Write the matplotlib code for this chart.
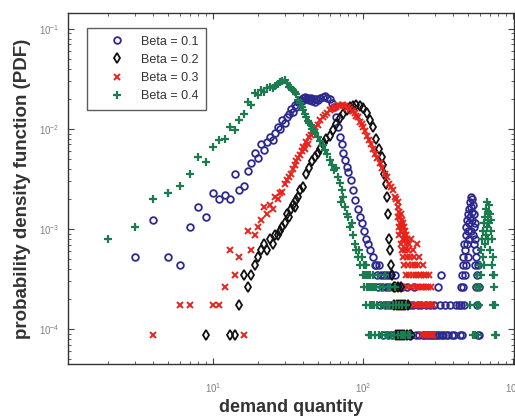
import numpy as np
from matplotlib import pyplot as plt
import matplotlib

# ---------------- data ----------------
# demand quantity (x) and number of occurrences (count) per series
# PDF = count / N_TOTAL  (one occurrence ~ 8.8e-5)
N_TOTAL = 11400

# Beta = 0.1
x_b1 = [3, 4, 5, 6, 7, 8, 9, 10, 11, 12, 13, 14, 15, 16, 17, 18, 19, 20, 21, 22,
        23, 24, 25, 26, 27, 28, 29, 30, 31, 32, 33, 34, 35, 36, 37, 38, 39, 40, 41, 42,
        43, 44, 45, 46, 47, 48, 49, 50, 52, 54, 56, 58, 60, 62, 64, 66, 68, 70, 72, 74,
        76, 78, 80, 83, 86, 89, 92, 95, 98, 101, 104, 108, 112, 116, 120,
        122, 124, 126, 128, 130, 132, 134, 136, 138, 140, 142, 144, 146, 148, 150, 152,
        154, 156, 158, 160, 163, 166, 169, 172, 175, 178, 181, 184, 188, 192, 196, 200,
        205, 210, 215, 220, 226, 232, 238, 244, 250, 256, 262, 268, 274, 280, 286, 292,
        298, 304, 310, 316, 322, 325, 330, 336, 342, 350, 360, 370, 380, 395, 405, 420,
        440, 444, 448, 452, 456, 459, 462, 465, 468, 471, 474, 477, 480, 483, 486, 489,
        492, 495, 498, 501, 504, 507, 510, 513, 516, 519, 522, 525, 528, 531, 534, 537,
        540, 543, 546, 549, 552, 555, 558, 561, 564, 567, 570, 574, 578, 582, 586, 590, 595]
c_b1 = [6, 14, 6, 5, 12, 19, 15, 26, 23, 25, 23, 40, 28, 31, 43, 52, 65, 58, 80, 70,
        85, 95, 88, 105, 120, 115, 140, 130, 150, 160, 180, 170, 200, 190, 210, 222, 215, 230, 240, 225,
        232, 222, 235, 215, 228, 210, 225, 222, 230, 238, 245, 232, 225, 205, 190, 150, 120, 95, 80, 66,
        56, 48, 42, 35, 28, 22, 18, 15, 13, 11, 9, 8, 7, 6, 5,
        5, 4, 3, 5, 2, 4, 3, 1, 4, 2, 3, 4, 1, 2, 3, 4,
        2, 1, 3, 2, 4, 1, 2, 3, 1, 2, 3, 2, 1, 2, 3, 1,
        2, 1, 2, 3, 1, 2, 1, 2, 1, 1, 2, 1, 1, 2, 1, 1,
        2, 1, 1, 3, 1, 2, 4, 1, 1, 2, 1, 1, 2, 1, 1, 2,
        2, 1, 3, 2, 4, 1, 5, 3, 6, 2, 8, 4, 7, 10, 5, 12,
        8, 14, 6, 11, 16, 9, 18, 13, 21, 15, 24, 11, 19, 17, 23, 14,
        20, 10, 16, 12, 8, 13, 5, 9, 7, 3, 6, 4, 2, 5, 1, 3, 1]

# Beta = 0.2
x_b2 = [9, 13, 14, 15, 16, 17, 18, 19, 20, 21, 22, 23, 24, 25, 26, 27, 28, 29, 30, 31,
        32, 33, 34, 35, 36, 37, 38, 40, 42, 44, 46, 48, 50, 52, 55, 57, 60, 63, 66, 70,
        74, 78, 82, 86, 90, 95, 100, 106, 112, 117, 123, 128, 133, 136, 139, 142, 145, 148,
        150, 152, 155, 157, 160, 162, 164, 166, 168, 170, 172, 174, 176, 178, 180, 183,
        186, 189, 192, 196, 200, 205, 210]
c_b2 = [1, 1, 1, 2, 4, 3, 4, 5, 6, 7, 8, 7, 9, 8, 10, 10, 11, 12, 13, 16,
        15, 18, 20, 19, 22, 24, 28, 30, 40, 46, 54, 60, 66, 72, 82, 90, 98, 112, 128, 148,
        162, 178, 188, 194, 198, 195, 185, 165, 140, 120, 90, 72, 60, 50, 40, 32, 24, 16,
        9, 7, 5, 4, 3, 2, 3, 1, 2, 3, 1, 2, 1, 2, 3, 1,
        2, 1, 2, 1, 2, 1, 1]

# Beta = 0.3
x_b3 = [4, 6, 7, 10, 11, 12, 13, 14, 15, 16, 17, 18, 19, 20, 21, 22, 23, 24, 25, 26,
        27, 28, 29, 30, 31, 32, 33, 34, 35, 36, 37, 38, 39, 40, 41, 42, 43, 44, 45, 46,
        47, 48, 50, 52, 54, 56, 58, 60, 62, 64, 66, 68, 70, 72, 74, 76, 78, 80, 82, 84,
        86, 88, 90, 92, 95, 98, 100, 103, 106, 110, 113, 116, 120, 125, 130, 135, 140, 144,
        150, 155, 158, 163, 166, 170, 171, 172, 173, 174, 175, 176, 177, 178, 179, 180, 181,
        182, 183, 184, 185, 186, 187, 188, 189, 190, 191, 192, 193, 194, 195, 196, 197, 198,
        199, 200, 202, 204, 206, 208, 210, 212, 214, 216, 218, 220, 222, 224, 226, 228, 230,
        232, 234, 236, 238, 240, 242, 244, 246, 248, 250, 252, 254, 256, 258, 260, 262, 264,
        266, 268, 270, 273, 276, 279, 282, 285, 288, 291, 295]
c_b3 = [1, 2, 2, 2, 2, 3, 7, 4, 6, 1, 11, 7, 10, 12, 14, 19, 16, 20, 18, 24,
        23, 26, 27, 32, 35, 38, 40, 45, 50, 55, 58, 63, 68, 75, 72, 84, 80, 95, 100, 110,
        104, 120, 125, 140, 150, 158, 165, 175, 180, 186, 190, 196, 195, 200, 196, 192, 186, 188, 180, 174,
        172, 164, 155, 150, 135, 128, 118, 110, 97, 88, 80, 72, 64, 58, 52, 46, 40, 38,
        32, 30, 28, 24, 23, 21, 15, 19, 12, 17, 10, 15, 13, 8, 16, 11, 14,
        7, 12, 9, 13, 6, 10, 12, 5, 9, 11, 7, 4, 10, 8, 6, 9, 3,
        7, 5, 8, 4, 6, 9, 3, 5, 7, 4, 2, 6, 5, 3, 4, 8, 2,
        5, 3, 4, 6, 2, 3, 4, 1, 3, 5, 2, 4, 3, 1, 2, 4, 3,
        2, 1, 3, 2, 4, 1, 2, 3, 1, 2, 1]

# Beta = 0.4
x_b4 = [2, 3, 4, 5, 6, 7, 8, 9, 10, 11, 12, 13, 14, 15, 16, 17, 18, 19, 20, 21,
        22, 23, 24, 25, 26, 27, 28, 29, 30, 31, 32, 33, 34, 35, 36, 37, 38, 39, 40, 41,
        42, 43, 44, 45, 46, 47, 48, 50, 52, 54, 56, 58, 60, 62, 64, 66, 68, 70, 71, 72,
        74, 76, 78, 80, 82, 84, 86, 88, 90, 92, 94, 96, 98, 100, 101, 102, 103, 104, 105,
        106, 107, 108, 109, 110, 111, 112, 113, 114, 115, 116, 117, 118, 119, 120, 122,
        124, 126, 128, 130, 132, 134, 136, 138, 140, 142, 144, 146, 148, 150, 152, 155,
        158, 161, 164, 167, 170, 174, 178, 182, 186, 190, 195, 200, 206,
        520, 540, 560, 566, 572, 578, 584, 590, 596, 602, 607, 612, 617, 622, 627, 632,
        637, 642, 647, 652, 657, 662, 667, 672, 677, 682, 687, 692, 697, 702, 707, 712,
        717, 722, 727, 732, 737, 742, 747, 752, 758, 764, 770]
c_b4 = [9, 12, 23, 26, 31, 40, 60, 53, 75, 88, 90, 119, 111, 140, 160, 210, 200, 260, 250, 280,
        270, 290, 300, 295, 310, 320, 335, 345, 355, 330, 300, 290, 280, 270, 255, 222, 205, 190, 177, 160,
        150, 138, 130, 125, 115, 110, 105, 95, 86, 78, 70, 64, 56, 50, 44, 46, 38, 33, 21, 28,
        24, 19, 16, 15, 12, 13, 10, 8, 7, 6, 7, 5, 6, 4, 5, 3, 4, 5,
        2, 4, 3, 4, 1, 3, 2, 4, 3, 1, 2, 3, 4, 2, 3, 1, 3,
        2, 4, 1, 3, 2, 1, 3, 2, 4, 1, 2, 3, 1, 2, 3, 1,
        2, 1, 3, 2, 1, 2, 1, 2, 1, 1, 2, 1, 1,
        2, 1, 1, 3, 2, 4, 1, 3, 2, 5, 3, 7, 4, 9, 6, 11,
        5, 13, 8, 15, 10, 18, 12, 21, 14, 17, 9, 20, 13, 16, 7, 11,
        14, 5, 9, 4, 6, 2, 4, 3, 1, 2, 1]

labels = ["Beta = 0.1", "Beta = 0.2", "Beta = 0.3", "Beta = 0.4"]

# ---------------- figure ----------------
matplotlib.rcParams['font.family'] = ['Liberation Sans', 'DejaVu Sans']
fig = plt.figure(figsize=(5.15, 4.17), dpi=100)
ax = fig.add_axes([0.132, 0.127, 0.866, 0.842])

ms = 4.8
mew = 1.3
ax.plot(x_b1, np.array(c_b1) / N_TOTAL, 'o', color='#2d2a8e', mfc='none', ms=ms, mew=mew, label=labels[0])
ax.plot(x_b2, np.array(c_b2) / N_TOTAL, 'd', color='#111111', mfc='none', ms=ms + 0.6, mew=mew, label=labels[1])
ax.plot(x_b3, np.array(c_b3) / N_TOTAL, 'x', color='#e8231c', ms=ms, mew=mew + 0.1, label=labels[2])
ax.plot(x_b4, np.array(c_b4) / N_TOTAL, '+', color='#1b7d4f', ms=ms + 0.8, mew=mew + 0.3, label=labels[3])

ax.set_xscale('log')
ax.set_yscale('log')
ax.set_xlim([1.08, 1016])
ax.set_ylim([4.47e-5, 0.1445])

ax.tick_params(which='both', direction='in', top=True, right=True, colors='#444444',
               labelcolor='#808080', labelsize=7)
ax.tick_params(axis='x', which='major', pad=12)
ax.tick_params(axis='y', which='major', pad=6)
ax.tick_params(which='major', length=4)
ax.tick_params(which='minor', length=2)
for s in ax.spines.values():
    s.set_color('#333333')
    s.set_linewidth(1.0)

ax.set_xlabel("demand quantity", fontsize=13, fontweight='bold', color='#333333', labelpad=3)
ax.set_ylabel("probability density function (PDF)", fontsize=13.5, fontweight='bold', color='#333333', labelpad=6)

leg = ax.legend(loc='upper left', bbox_to_anchor=(0.043, 0.957), fontsize=9, frameon=True,
                fancybox=False, edgecolor='#333333', borderpad=0.6, labelspacing=0.5,
                handletextpad=0.1, handlelength=3.6, borderaxespad=0)
leg.get_frame().set_linewidth(1.0)
for t in leg.get_texts():
    t.set_color('#333333')

fig.savefig("out.png", dpi=100)
